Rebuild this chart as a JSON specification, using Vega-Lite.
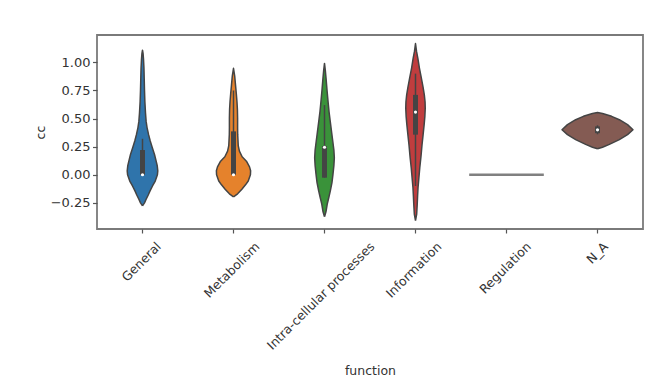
{
  "$schema": "https://vega.github.io/schema/vega-lite/v6.json",
  "width": 546,
  "height": 194,
  "autosize": {"type": "none"},
  "padding": {"left": 97, "top": 35, "right": 17, "bottom": 161},
  "background": "white",
  "config": {
    "font": "DejaVu Sans",
    "view": {"stroke": "#7a7a7a", "strokeWidth": 1.8},
    "axis": {
      "domain": false,
      "grid": false,
      "labelColor": "#333333",
      "titleColor": "#333333",
      "tickColor": "#555555",
      "labelFontSize": 12.5,
      "titleFontSize": 12.5,
      "titleFontWeight": "normal",
      "tickWidth": 1.2
    },
    "axisY": {"labelOverlap": false, "tickCount": 12, "labelFontSize": 13}
  },
  "datasets": {
    "outline": [
      {"f":"General","o":0,"cc":-0.277,"w":0},
      {"f":"General","o":1,"cc":-0.25,"w":0.022},
      {"f":"General","o":2,"cc":-0.218,"w":0.04},
      {"f":"General","o":3,"cc":-0.18,"w":0.063},
      {"f":"General","o":4,"cc":-0.144,"w":0.083},
      {"f":"General","o":5,"cc":-0.1,"w":0.11},
      {"f":"General","o":6,"cc":-0.056,"w":0.14},
      {"f":"General","o":7,"cc":0,"w":0.164},
      {"f":"General","o":8,"cc":0.035,"w":0.168},
      {"f":"General","o":9,"cc":0.08,"w":0.162},
      {"f":"General","o":10,"cc":0.121,"w":0.15},
      {"f":"General","o":11,"cc":0.18,"w":0.132},
      {"f":"General","o":12,"cc":0.24,"w":0.108},
      {"f":"General","o":13,"cc":0.3,"w":0.085},
      {"f":"General","o":14,"cc":0.357,"w":0.067},
      {"f":"General","o":15,"cc":0.42,"w":0.05},
      {"f":"General","o":16,"cc":0.475,"w":0.04},
      {"f":"General","o":17,"cc":0.55,"w":0.033},
      {"f":"General","o":18,"cc":0.652,"w":0.026},
      {"f":"General","o":19,"cc":0.75,"w":0.022},
      {"f":"General","o":20,"cc":0.85,"w":0.019},
      {"f":"General","o":21,"cc":0.947,"w":0.016},
      {"f":"General","o":22,"cc":1.03,"w":0.011},
      {"f":"General","o":23,"cc":1.08,"w":0.006},
      {"f":"General","o":24,"cc":1.109,"w":0},
      {"f":"General","o":25,"cc":1.08,"w":-0.006},
      {"f":"General","o":26,"cc":1.03,"w":-0.011},
      {"f":"General","o":27,"cc":0.947,"w":-0.016},
      {"f":"General","o":28,"cc":0.85,"w":-0.019},
      {"f":"General","o":29,"cc":0.75,"w":-0.022},
      {"f":"General","o":30,"cc":0.652,"w":-0.026},
      {"f":"General","o":31,"cc":0.55,"w":-0.033},
      {"f":"General","o":32,"cc":0.475,"w":-0.04},
      {"f":"General","o":33,"cc":0.42,"w":-0.05},
      {"f":"General","o":34,"cc":0.357,"w":-0.067},
      {"f":"General","o":35,"cc":0.3,"w":-0.085},
      {"f":"General","o":36,"cc":0.24,"w":-0.108},
      {"f":"General","o":37,"cc":0.18,"w":-0.132},
      {"f":"General","o":38,"cc":0.121,"w":-0.15},
      {"f":"General","o":39,"cc":0.08,"w":-0.162},
      {"f":"General","o":40,"cc":0.035,"w":-0.168},
      {"f":"General","o":41,"cc":0,"w":-0.164},
      {"f":"General","o":42,"cc":-0.056,"w":-0.14},
      {"f":"General","o":43,"cc":-0.1,"w":-0.11},
      {"f":"General","o":44,"cc":-0.144,"w":-0.083},
      {"f":"General","o":45,"cc":-0.18,"w":-0.063},
      {"f":"General","o":46,"cc":-0.218,"w":-0.04},
      {"f":"General","o":47,"cc":-0.25,"w":-0.022},
      {"f":"General","o":48,"cc":-0.277,"w":0},

      {"f":"Metabolism","o":0,"cc":-0.197,"w":0},
      {"f":"Metabolism","o":1,"cc":-0.17,"w":0.045},
      {"f":"Metabolism","o":2,"cc":-0.129,"w":0.092},
      {"f":"Metabolism","o":3,"cc":-0.09,"w":0.132},
      {"f":"Metabolism","o":4,"cc":-0.056,"w":0.162},
      {"f":"Metabolism","o":5,"cc":0,"w":0.186},
      {"f":"Metabolism","o":6,"cc":0.035,"w":0.188},
      {"f":"Metabolism","o":7,"cc":0.07,"w":0.176},
      {"f":"Metabolism","o":8,"cc":0.121,"w":0.142},
      {"f":"Metabolism","o":9,"cc":0.16,"w":0.095},
      {"f":"Metabolism","o":10,"cc":0.21,"w":0.065},
      {"f":"Metabolism","o":11,"cc":0.26,"w":0.052},
      {"f":"Metabolism","o":12,"cc":0.357,"w":0.046},
      {"f":"Metabolism","o":13,"cc":0.42,"w":0.045},
      {"f":"Metabolism","o":14,"cc":0.505,"w":0.045},
      {"f":"Metabolism","o":15,"cc":0.58,"w":0.043},
      {"f":"Metabolism","o":16,"cc":0.652,"w":0.038},
      {"f":"Metabolism","o":17,"cc":0.72,"w":0.031},
      {"f":"Metabolism","o":18,"cc":0.8,"w":0.022},
      {"f":"Metabolism","o":19,"cc":0.88,"w":0.013},
      {"f":"Metabolism","o":20,"cc":0.947,"w":0},
      {"f":"Metabolism","o":21,"cc":0.88,"w":-0.013},
      {"f":"Metabolism","o":22,"cc":0.8,"w":-0.022},
      {"f":"Metabolism","o":23,"cc":0.72,"w":-0.031},
      {"f":"Metabolism","o":24,"cc":0.652,"w":-0.038},
      {"f":"Metabolism","o":25,"cc":0.58,"w":-0.043},
      {"f":"Metabolism","o":26,"cc":0.505,"w":-0.045},
      {"f":"Metabolism","o":27,"cc":0.42,"w":-0.045},
      {"f":"Metabolism","o":28,"cc":0.357,"w":-0.046},
      {"f":"Metabolism","o":29,"cc":0.26,"w":-0.052},
      {"f":"Metabolism","o":30,"cc":0.21,"w":-0.065},
      {"f":"Metabolism","o":31,"cc":0.16,"w":-0.095},
      {"f":"Metabolism","o":32,"cc":0.121,"w":-0.142},
      {"f":"Metabolism","o":33,"cc":0.07,"w":-0.176},
      {"f":"Metabolism","o":34,"cc":0.035,"w":-0.188},
      {"f":"Metabolism","o":35,"cc":0,"w":-0.186},
      {"f":"Metabolism","o":36,"cc":-0.056,"w":-0.162},
      {"f":"Metabolism","o":37,"cc":-0.09,"w":-0.132},
      {"f":"Metabolism","o":38,"cc":-0.129,"w":-0.092},
      {"f":"Metabolism","o":39,"cc":-0.17,"w":-0.045},
      {"f":"Metabolism","o":40,"cc":-0.197,"w":0},

      {"f":"Intra-cellular processes","o":0,"cc":-0.374,"w":0},
      {"f":"Intra-cellular processes","o":1,"cc":-0.33,"w":0.016},
      {"f":"Intra-cellular processes","o":2,"cc":-0.262,"w":0.03},
      {"f":"Intra-cellular processes","o":3,"cc":-0.2,"w":0.048},
      {"f":"Intra-cellular processes","o":4,"cc":-0.144,"w":0.064},
      {"f":"Intra-cellular processes","o":5,"cc":-0.07,"w":0.082},
      {"f":"Intra-cellular processes","o":6,"cc":0.003,"w":0.093},
      {"f":"Intra-cellular processes","o":7,"cc":0.08,"w":0.103},
      {"f":"Intra-cellular processes","o":8,"cc":0.151,"w":0.108},
      {"f":"Intra-cellular processes","o":9,"cc":0.22,"w":0.103},
      {"f":"Intra-cellular processes","o":10,"cc":0.298,"w":0.091},
      {"f":"Intra-cellular processes","o":11,"cc":0.38,"w":0.078},
      {"f":"Intra-cellular processes","o":12,"cc":0.475,"w":0.063},
      {"f":"Intra-cellular processes","o":13,"cc":0.56,"w":0.05},
      {"f":"Intra-cellular processes","o":14,"cc":0.652,"w":0.039},
      {"f":"Intra-cellular processes","o":15,"cc":0.75,"w":0.028},
      {"f":"Intra-cellular processes","o":16,"cc":0.858,"w":0.017},
      {"f":"Intra-cellular processes","o":17,"cc":0.93,"w":0.009},
      {"f":"Intra-cellular processes","o":18,"cc":0.991,"w":0},
      {"f":"Intra-cellular processes","o":19,"cc":0.93,"w":-0.009},
      {"f":"Intra-cellular processes","o":20,"cc":0.858,"w":-0.017},
      {"f":"Intra-cellular processes","o":21,"cc":0.75,"w":-0.028},
      {"f":"Intra-cellular processes","o":22,"cc":0.652,"w":-0.039},
      {"f":"Intra-cellular processes","o":23,"cc":0.56,"w":-0.05},
      {"f":"Intra-cellular processes","o":24,"cc":0.475,"w":-0.063},
      {"f":"Intra-cellular processes","o":25,"cc":0.38,"w":-0.078},
      {"f":"Intra-cellular processes","o":26,"cc":0.298,"w":-0.091},
      {"f":"Intra-cellular processes","o":27,"cc":0.22,"w":-0.103},
      {"f":"Intra-cellular processes","o":28,"cc":0.151,"w":-0.108},
      {"f":"Intra-cellular processes","o":29,"cc":0.08,"w":-0.103},
      {"f":"Intra-cellular processes","o":30,"cc":0.003,"w":-0.093},
      {"f":"Intra-cellular processes","o":31,"cc":-0.07,"w":-0.082},
      {"f":"Intra-cellular processes","o":32,"cc":-0.144,"w":-0.064},
      {"f":"Intra-cellular processes","o":33,"cc":-0.2,"w":-0.048},
      {"f":"Intra-cellular processes","o":34,"cc":-0.262,"w":-0.03},
      {"f":"Intra-cellular processes","o":35,"cc":-0.33,"w":-0.016},
      {"f":"Intra-cellular processes","o":36,"cc":-0.374,"w":0},

      {"f":"Information","o":0,"cc":-0.409,"w":0},
      {"f":"Information","o":1,"cc":-0.35,"w":0.013},
      {"f":"Information","o":2,"cc":-0.262,"w":0.019},
      {"f":"Information","o":3,"cc":-0.19,"w":0.023},
      {"f":"Information","o":4,"cc":-0.114,"w":0.028},
      {"f":"Information","o":5,"cc":-0.03,"w":0.037},
      {"f":"Information","o":6,"cc":0.063,"w":0.047},
      {"f":"Information","o":7,"cc":0.16,"w":0.06},
      {"f":"Information","o":8,"cc":0.269,"w":0.072},
      {"f":"Information","o":9,"cc":0.36,"w":0.084},
      {"f":"Information","o":10,"cc":0.446,"w":0.095},
      {"f":"Information","o":11,"cc":0.52,"w":0.103},
      {"f":"Information","o":12,"cc":0.593,"w":0.107},
      {"f":"Information","o":13,"cc":0.65,"w":0.105},
      {"f":"Information","o":14,"cc":0.711,"w":0.097},
      {"f":"Information","o":15,"cc":0.78,"w":0.083},
      {"f":"Information","o":16,"cc":0.858,"w":0.065},
      {"f":"Information","o":17,"cc":0.95,"w":0.043},
      {"f":"Information","o":18,"cc":1.035,"w":0.026},
      {"f":"Information","o":19,"cc":1.1,"w":0.011},
      {"f":"Information","o":20,"cc":1.168,"w":0},
      {"f":"Information","o":21,"cc":1.1,"w":-0.011},
      {"f":"Information","o":22,"cc":1.035,"w":-0.026},
      {"f":"Information","o":23,"cc":0.95,"w":-0.043},
      {"f":"Information","o":24,"cc":0.858,"w":-0.065},
      {"f":"Information","o":25,"cc":0.78,"w":-0.083},
      {"f":"Information","o":26,"cc":0.711,"w":-0.097},
      {"f":"Information","o":27,"cc":0.65,"w":-0.105},
      {"f":"Information","o":28,"cc":0.593,"w":-0.107},
      {"f":"Information","o":29,"cc":0.52,"w":-0.103},
      {"f":"Information","o":30,"cc":0.446,"w":-0.095},
      {"f":"Information","o":31,"cc":0.36,"w":-0.084},
      {"f":"Information","o":32,"cc":0.269,"w":-0.072},
      {"f":"Information","o":33,"cc":0.16,"w":-0.06},
      {"f":"Information","o":34,"cc":0.063,"w":-0.047},
      {"f":"Information","o":35,"cc":-0.03,"w":-0.037},
      {"f":"Information","o":36,"cc":-0.114,"w":-0.028},
      {"f":"Information","o":37,"cc":-0.19,"w":-0.023},
      {"f":"Information","o":38,"cc":-0.262,"w":-0.019},
      {"f":"Information","o":39,"cc":-0.35,"w":-0.013},
      {"f":"Information","o":40,"cc":-0.409,"w":0},

      {"f":"N_A","o":0,"cc":0.231,"w":0},
      {"f":"N_A","o":1,"cc":0.245,"w":0.055},
      {"f":"N_A","o":2,"cc":0.27,"w":0.13},
      {"f":"N_A","o":3,"cc":0.313,"w":0.24},
      {"f":"N_A","o":4,"cc":0.357,"w":0.33},
      {"f":"N_A","o":5,"cc":0.4,"w":0.39},
      {"f":"N_A","o":6,"cc":0.446,"w":0.33},
      {"f":"N_A","o":7,"cc":0.49,"w":0.24},
      {"f":"N_A","o":8,"cc":0.52,"w":0.155},
      {"f":"N_A","o":9,"cc":0.545,"w":0.055},
      {"f":"N_A","o":10,"cc":0.555,"w":0},
      {"f":"N_A","o":11,"cc":0.545,"w":-0.055},
      {"f":"N_A","o":12,"cc":0.52,"w":-0.155},
      {"f":"N_A","o":13,"cc":0.49,"w":-0.24},
      {"f":"N_A","o":14,"cc":0.446,"w":-0.33},
      {"f":"N_A","o":15,"cc":0.4,"w":-0.39},
      {"f":"N_A","o":16,"cc":0.357,"w":-0.33},
      {"f":"N_A","o":17,"cc":0.313,"w":-0.24},
      {"f":"N_A","o":18,"cc":0.27,"w":-0.13},
      {"f":"N_A","o":19,"cc":0.245,"w":-0.055},
      {"f":"N_A","o":20,"cc":0.231,"w":0}
    ],
    "single": [
      {"f":"Regulation","o":0,"cc":0,"w":-0.41},
      {"f":"Regulation","o":1,"cc":0,"w":0.41}
    ],
    "box": [
      {"f":"General","q1":0,"q3":0.22,"lo":0,"hi":0.32,"med":0},
      {"f":"Metabolism","q1":0,"q3":0.386,"lo":0,"hi":0.75,"med":0},
      {"f":"Intra-cellular processes","q1":-0.026,"q3":0.254,"lo":-0.026,"hi":0.62,"med":0.245},
      {"f":"Information","q1":0.357,"q3":0.711,"lo":-0.1,"hi":0.9,"med":0.558},
      {"f":"N_A","q1":0.37,"q3":0.43,"lo":0.36,"hi":0.44,"med":0.4}
    ]
  },
  "encoding": {
    "x": {
      "field": "f",
      "type": "nominal",
      "title": "function",
      "scale": {
        "type": "band",
        "domain": ["General","Metabolism","Intra-cellular processes","Information","Regulation","N_A"],
        "paddingInner": 0,
        "paddingOuter": 0
      },
      "axis": {
        "labelAngle": -45,
        "labelAlign": "right",
        "labelBaseline": "middle",
        "labelPadding": 11,
        "tickSize": 4,
        "labelOverlap": false,
        "labelFlush": false,
        "titlePadding": 13,
        "labelOffset": {"expr": "datum.value == 'General' ? 16.5 : datum.value == 'Metabolism' ? 24 : datum.value == 'Intra-cellular processes' ? 48 : datum.value == 'Information' ? 24 : datum.value == 'Regulation' ? 22.5 : 8.5"}
      }
    }
  },
  "layer": [
    {
      "data": {"name": "outline"},
      "mark": {"type": "line", "stroke": "#444444", "strokeWidth": 1.5, "strokeJoin": "round"},
      "encoding": {
        "xOffset": {"field": "w", "type": "quantitative", "scale": {"domain": [-0.5, 0.5]}},
        "y": {
          "field": "cc",
          "type": "quantitative",
          "title": "cc",
          "scale": {"domain": [-0.483, 1.244], "nice": false, "zero": false},
          "axis": {"values": [-0.25, 0, 0.25, 0.5, 0.75, 1], "format": ".2f", "tickCount": 12, "tickSize": 4.5, "labelPadding": 2.5, "titlePadding": 3, "labelOverlap": false}
        },
        "order": {"field": "o", "type": "quantitative"},
        "detail": {"field": "f"},
        "fill": {
          "field": "f",
          "type": "nominal",
          "legend": null,
          "scale": {
            "domain": ["General","Metabolism","Intra-cellular processes","Information","N_A"],
            "range": ["#2f74ab","#e5822c","#3a923a","#c03d3e","#845b53"]
          }
        }
      }
    },
    {
      "data": {"name": "single"},
      "mark": {"type": "line", "stroke": "#808080", "strokeWidth": 2.5},
      "encoding": {
        "xOffset": {"field": "w", "type": "quantitative", "scale": {"domain": [-0.5, 0.5]}},
        "y": {"field": "cc", "type": "quantitative"},
        "order": {"field": "o", "type": "quantitative"}
      }
    },
    {
      "data": {"name": "box"},
      "mark": {"type": "rule", "color": "#444444", "strokeWidth": 1.5},
      "encoding": {
        "y": {"field": "lo", "type": "quantitative"},
        "y2": {"field": "hi"}
      }
    },
    {
      "data": {"name": "box"},
      "mark": {"type": "rule", "color": "#444444", "strokeWidth": 5},
      "encoding": {
        "y": {"field": "q1", "type": "quantitative"},
        "y2": {"field": "q3"}
      }
    },
    {
      "data": {"name": "box"},
      "mark": {"type": "point", "filled": true, "color": "white", "size": 10, "opacity": 1},
      "encoding": {
        "y": {"field": "med", "type": "quantitative"}
      }
    }
  ]
}
